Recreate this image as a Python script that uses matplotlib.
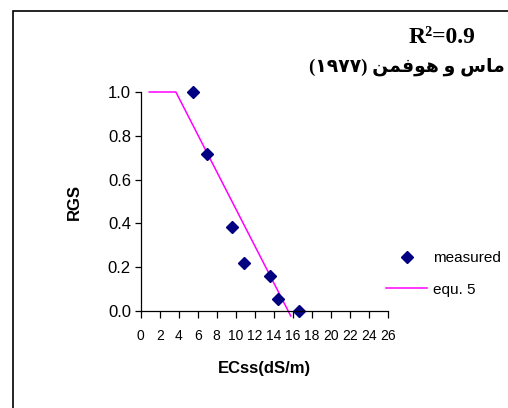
import matplotlib
matplotlib.use("Agg")
import matplotlib.pyplot as plt
from matplotlib.patches import Rectangle

# measured points
ec_measured = [5.5, 6.95, 9.65, 10.9, 13.6, 14.4, 16.7]
rgs_measured = [1.0, 0.716, 0.385, 0.22, 0.16, 0.053, 0.0]

# equ. 5 (Maas & Hoffman threshold-slope line)
ec_line = [0.9, 3.7, 15.8]
rgs_line = [1.0, 1.0, -0.023]

x_ticks = list(range(0, 27, 2))
y_ticks = [0.0, 0.2, 0.4, 0.6, 0.8, 1.0]

r2_text = "R\u00b2=0.9"
# "ماس و هوفمن (۱۹۷۷)" written in shaped, visual order
source_text = ("(\u06F1\u06F9\u06F7\u06F7) "
               "\uFEE6\uFEE4\uFED3\uFEEE\uFEEB \uFEED "
               "\uFEB1\uFE8E\uFEE3")

W, H = 508, 408
fig = plt.figure(figsize=(W / 100, H / 100), dpi=100)

# outer chart frame
fig.add_artist(Rectangle((13 / W, -0.2), 1.5, 1.2 - 11 / H,
                         transform=fig.transFigure, fill=False,
                         edgecolor="black", linewidth=1.2))

ax = fig.add_axes([140.7 / W, 1 - 311 / H, 247 / W, 219 / H])

ax.plot(ec_line, rgs_line, color="#FF00FF", linewidth=1.1,
        clip_on=False, label="equ. 5")
ax.plot(ec_measured, rgs_measured, linestyle="none", marker="D",
        markersize=6.3, color="#000080", clip_on=False, label="measured")

ax.set_xlim(0, 26)
ax.set_ylim(0, 1.0)
ax.set_xticks(x_ticks)
ax.set_yticks(y_ticks)
ax.set_yticklabels(["%.1f" % v for v in y_ticks])

for side in ["top", "right"]:
    ax.spines[side].set_visible(False)
for side in ["left", "bottom"]:
    ax.spines[side].set_linewidth(0.9)

ax.tick_params(axis="y", direction="out", length=4, width=0.9,
               labelsize=12, pad=3)
ax.tick_params(axis="x", direction="out", length=5, width=0.9,
               labelsize=10, pad=8)
for lab in ax.get_xticklabels():
    lab.set_family(["Liberation Sans Narrow", "Liberation Sans"])
for lab in ax.get_yticklabels():
    lab.set_family("Liberation Sans")

ax.set_ylabel("RGS", fontsize=12, fontweight="bold",
              family="Liberation Sans", labelpad=19)
ax.set_xlabel("ECss(dS/m)", fontsize=12, fontweight="bold",
              family="Liberation Sans", labelpad=13)

handles, labels = ax.get_legend_handles_labels()
fig.legend(handles[::-1], labels[::-1], loc="upper left",
           bbox_to_anchor=(386 / W, 1 - 251 / H),
           frameon=False, borderpad=0, borderaxespad=0,
           handlelength=2.7, handletextpad=0.35, labelspacing=1.15,
           prop={"family": "Liberation Sans", "size": 11})

fig.text(475 / W, 1 - 43 / H, r2_text, ha="right", va="baseline",
         fontsize=17, fontweight="bold", family="Liberation Serif")
fig.text(505 / W, 1 - 67 / H, source_text, ha="right", va="center",
         fontsize=13.5, fontweight="bold",
         family=["Liberation Serif", "DejaVu Sans"])

fig.savefig("out.png", dpi=100)
